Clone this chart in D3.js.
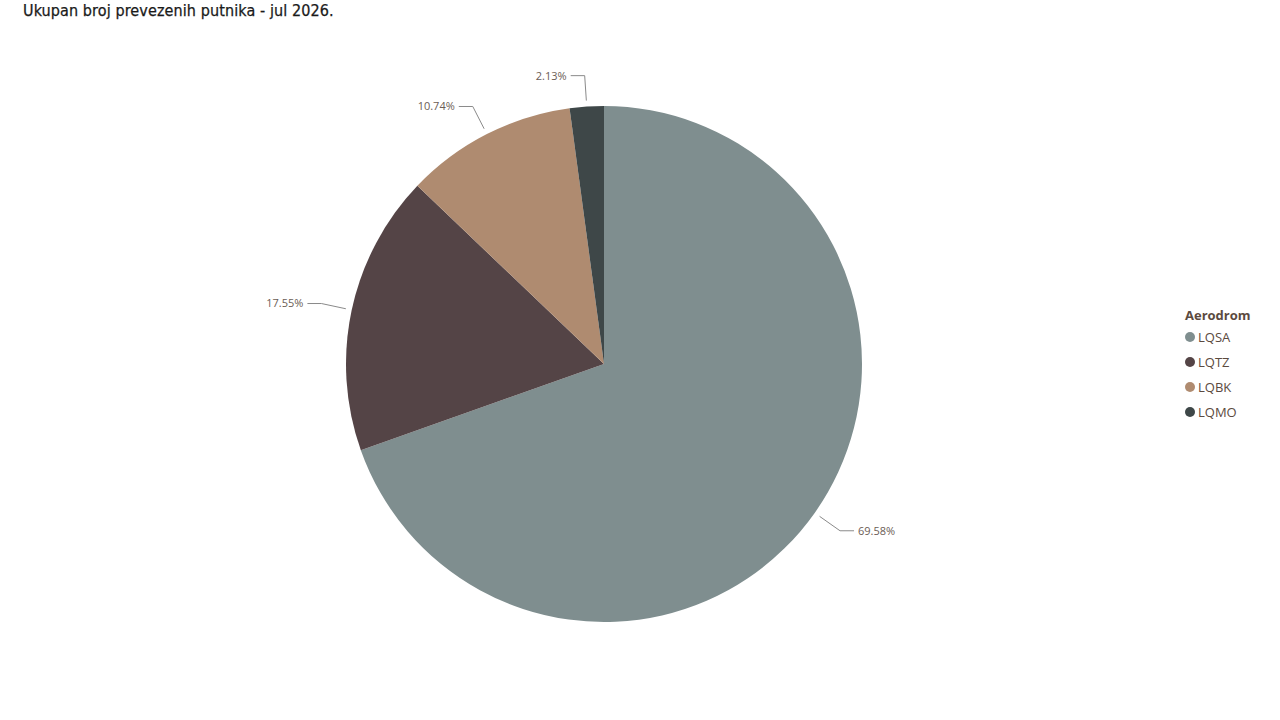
<!DOCTYPE html>
<html>
<head>
<meta charset="utf-8">
<script src="https://cdn.jsdelivr.net/npm/d3@7"></script>
<style>
  body { margin: 0; background: #fff; }
  svg { display: block; }
</style>
</head>
<body>
<svg id="chart" width="1280" height="720"></svg>
<script>
const title = "Ukupan broj prevezenih putnika - jul 2026.";
const legendTitle = "Aerodrom";
const airports = ["LQSA", "LQTZ", "LQBK", "LQMO"];
const shares = [69.58, 17.55, 10.74, 2.13];
const colors = ["#7F8E8F", "#544446", "#AF8B70", "#3E4748"];

const svg = d3.select("#chart");
const cx = 604, cy = 364, r = 258;

svg.append("text")
  .attr("x", 23).attr("y", 16)
  .attr("font-family", "'DejaVu Sans Condensed', 'DejaVu Sans', sans-serif")
  .attr("font-size", 16)
  .attr("font-weight", 500)
  .attr("letter-spacing", 0.1)
  .attr("stroke", "#1a1a1a")
  .attr("stroke-width", 0.25)
  .attr("fill", "#1a1a1a")
  .text(title);

const data = airports.map((a, i) => ({ name: a, value: shares[i] }));
const color = d3.scaleOrdinal().domain(airports).range(colors);

const pie = d3.pie().value(d => d.value).sort(null);
const arc = d3.arc().innerRadius(0).outerRadius(r);
const arcs = pie(data);

const g = svg.append("g").attr("transform", `translate(${cx},${cy})`);

g.selectAll("path.slice")
  .data(arcs)
  .enter().append("path")
  .attr("class", "slice")
  .attr("d", arc)
  .attr("fill", d => color(d.data.name));

// leader lines + labels
const startArc = d3.arc().innerRadius(r + 6).outerRadius(r + 6);
const elbowArc = d3.arc().innerRadius(r + 31).outerRadius(r + 31);

arcs.forEach(d => {
  const mid = (d.startAngle + d.endAngle) / 2;
  const p0 = startArc.centroid(d);
  const p1 = elbowArc.centroid(d);
  const right = mid < Math.PI;
  const p2 = [p1[0] + (right ? 14 : -14), p1[1]];
  g.append("polyline")
    .attr("points", [p0, p1, p2].map(p => p.join(",")).join(" "))
    .attr("fill", "none")
    .attr("stroke", "#8a8a8a")
    .attr("stroke-width", 1);
  g.append("text")
    .attr("x", p2[0] + (right ? 4 : -4))
    .attr("y", p2[1])
    .attr("dy", "0.35em")
    .attr("text-anchor", right ? "start" : "end")
    .attr("font-family", "'Open Sans', 'Noto Sans', sans-serif")
    .attr("font-size", 11)
    .attr("fill", "#6b5d55")
    .text(d3.format(".2f")(d.data.value) + "%");
});

// legend
const lg = svg.append("g").attr("transform", "translate(1185,315)");
lg.append("text")
  .attr("x", 0).attr("y", 0)
  .attr("dy", "0.35em")
  .attr("font-family", "'Open Sans', 'Noto Sans', sans-serif")
  .attr("font-size", 13)
  .attr("font-weight", "bold")
  .attr("fill", "#5b4a40")
  .text(legendTitle);

const items = lg.selectAll("g.item")
  .data(airports)
  .enter().append("g")
  .attr("class", "item")
  .attr("transform", (d, i) => `translate(0,${22 + i * 25})`);
items.append("circle")
  .attr("cx", 5).attr("cy", 0).attr("r", 5)
  .attr("fill", d => color(d));
items.append("text")
  .attr("x", 13).attr("y", 0)
  .attr("dy", "0.35em")
  .attr("font-family", "'Open Sans', 'Noto Sans', sans-serif")
  .attr("font-size", 13)
  .attr("fill", "#5b4a40")
  .text(d => d);
</script>
</body>
</html>
